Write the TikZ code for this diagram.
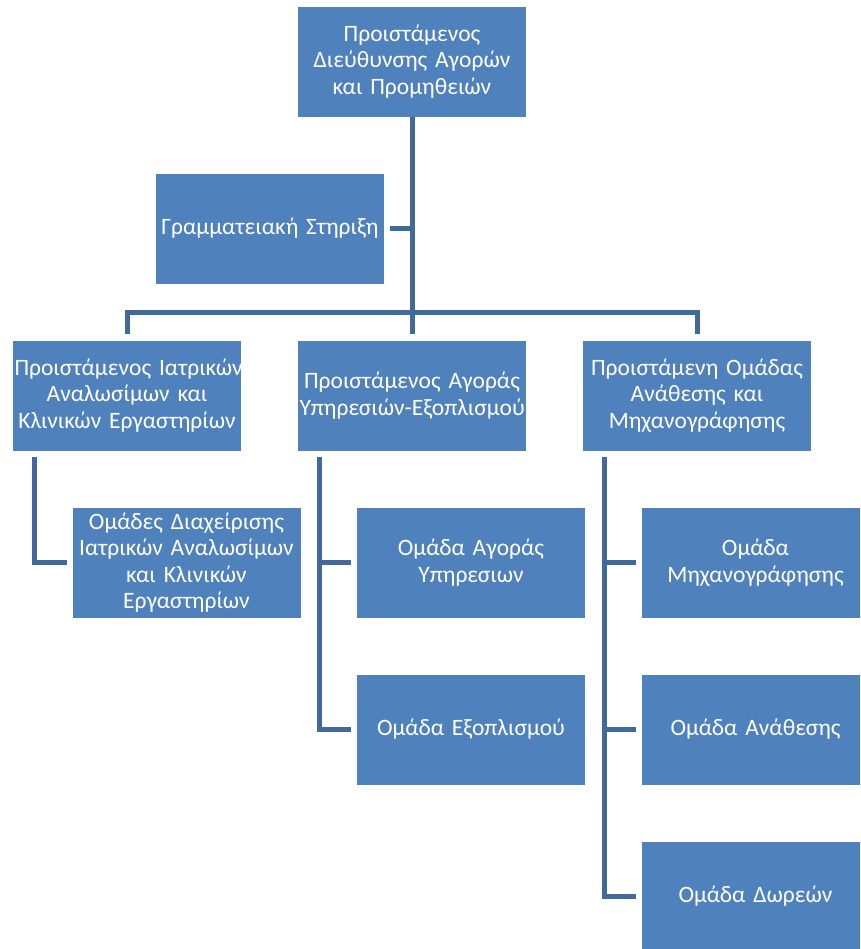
\documentclass[tikz,border=0pt]{standalone}
\usepackage{fontspec}
\setmainfont{Carlito}
\usepackage{tikz}
\definecolor{boxblue}{HTML}{4F81BD}
\definecolor{linkblue}{HTML}{41699B}
\tikzset{x=1pt, y=-1pt,
    org box/.style={fill=boxblue, draw=white, line width=0.4pt,
          text=white, inner xsep=2pt, inner ysep=3pt, text width=225pt, align=center,
          minimum width=229pt, minimum height=111pt,
          font=\fontsize{23.5}{26.5}\selectfont},
    org link/.style={draw=linkblue, line width=5pt}
    }
\begin{document}
\begin{tikzpicture}
\useasboundingbox (0,0) rectangle (860,949);
\clip (0,0) rectangle (860,949);
% top and secretary
\node[org box] (head) at (412,61.5) {Προιστάμενος\\ Διεύθυνσης Αγορών\\ και Προμηθειών};
\node[org box] (sec) at (270,228.5) {Γραμματειακή Στηριξη};
% second level
\node[org box] (lab) at (127,395.5) {\mbox{Προιστάμενος Ιατρικών}\\ Αναλωσίμων και\\ Κλινικών Εργαστηρίων};
\node[org box] (svc) at (412,395.5) {Προιστάμενος Αγοράς\\ \mbox{Υπηρεσιών-Εξοπλισμού}};
\node[org box] (assign) at (697,395.5) {Προιστάμενη Ομάδας\\ Ανάθεσης και\\ Μηχανογράφησης};
% teams
\node[org box] (labgrp) at (186.5,562.5) {Ομάδες Διαχείρισης\\ Ιατρικών Αναλωσίμων\\ και Κλινικών\\ Εργαστηρίων};
\node[org box] (svcgrp) at (471,562.5) {Ομάδα Αγοράς\\ Υπηρεσιων};
\node[org box] (equipgrp) at (471,729.5) {Ομάδα Εξοπλισμού};
\node[org box] (mechgrp) at (755.5,562.5) {Ομάδα\\ Μηχανογράφησης};
\node[org box] (awardgrp) at (755.5,729.5) {Ομάδα Ανάθεσης};
\node[org box] (donategrp) at (755.5,896.5) {Ομάδα Δωρεών};
% links
\draw[org link] (head.south) -- ([yshift=6pt]svc.north);
\draw[org link, shorten <=5pt] (sec.east) -- (sec.east -| head.south);
\draw[org link] ([yshift=27pt]lab.north) -- ([yshift=27pt]assign.north);
\draw[org link] ([yshift=29.5pt]lab.north) -- ([yshift=6pt]lab.north);
\draw[org link] ([yshift=29.5pt]assign.north) -- ([yshift=6pt]assign.north);
\foreach \up/\sub in {lab/labgrp, svc/svcgrp, svc/equipgrp, assign/mechgrp, assign/awardgrp, assign/donategrp}
  \draw[org link, shorten >=5pt] ([xshift=-93pt, yshift=-6pt]\up.south) |- (\sub.west);
\end{tikzpicture}
\end{document}
